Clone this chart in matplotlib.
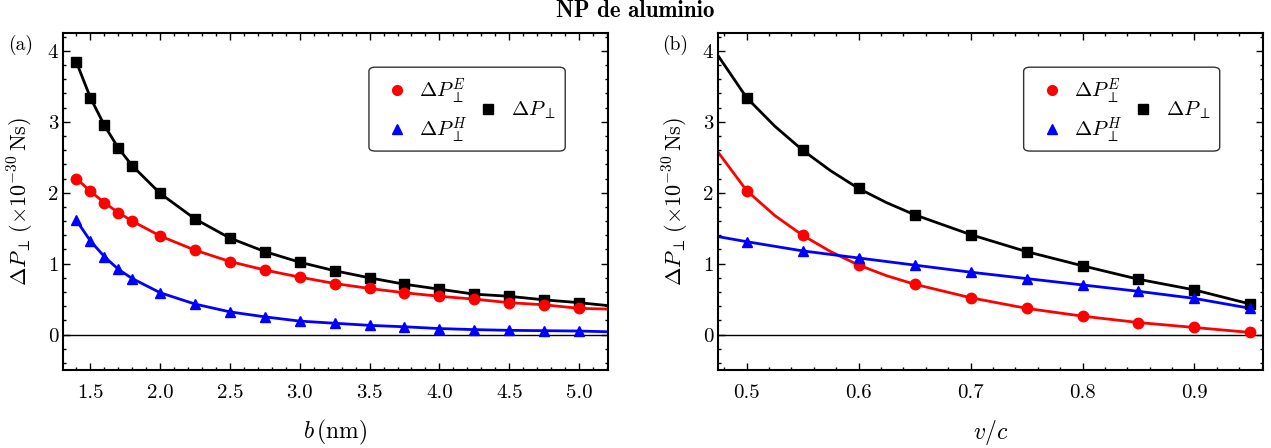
"""
Transferencia de momento - NP de aluminio (dos paneles)
"""

import matplotlib
matplotlib.use('Agg')
import matplotlib.pyplot as plt
from matplotlib.lines import Line2D
from matplotlib.patches import FancyBboxPatch
from matplotlib.ticker import MultipleLocator

plt.rcParams['font.family'] = 'serif'
plt.rcParams['font.serif'] = ['cmr10']
plt.rcParams['mathtext.fontset'] = 'cm'
plt.rcParams['axes.unicode_minus'] = False

# Panel (a): dependence on impact parameter b (nm)
b_nm = [1.4, 1.5, 1.6, 1.7, 1.8, 2.0, 2.25, 2.5, 2.75, 3.0, 3.25, 3.5,
        3.75, 4.0, 4.25, 4.5, 4.75, 5.0]
dp_total_b = [3.84, 3.34, 2.95, 2.63, 2.38, 1.99, 1.63, 1.36, 1.17, 1.02,
              0.90, 0.80, 0.71, 0.64, 0.57, 0.54, 0.49, 0.45]
dp_e_b = [2.20, 2.02, 1.86, 1.72, 1.60, 1.39, 1.19, 1.03, 0.91, 0.81,
          0.72, 0.65, 0.59, 0.54, 0.50, 0.45, 0.42, 0.37]
dp_h_b = [1.61, 1.32, 1.10, 0.92, 0.79, 0.59, 0.43, 0.32, 0.25, 0.19,
          0.16, 0.13, 0.11, 0.085, 0.07, 0.06, 0.055, 0.05]
# curve values at the right edge of panel (a)
b_edge = 5.2
dp_total_b_edge = 0.41
dp_e_b_edge = 0.36
dp_h_b_edge = 0.04

# Panel (b): dependence on v/c
v_c = [0.5, 0.55, 0.6, 0.65, 0.7, 0.75, 0.8, 0.85, 0.9, 0.95]
dp_total_v = [3.34, 2.60, 2.06, 1.69, 1.41, 1.17, 0.97, 0.78, 0.63, 0.43]
dp_e_v = [2.03, 1.40, 0.98, 0.71, 0.52, 0.37, 0.26, 0.17, 0.10, 0.03]
dp_h_v = [1.31, 1.18, 1.08, 0.98, 0.88, 0.79, 0.70, 0.61, 0.51, 0.37]
# curve values read between markers / at the left edge of panel (b)
v_extra = [0.475, 0.525, 0.575, 0.625]
dp_total_v_extra = [3.92, 2.94, 2.31, 1.86]
dp_e_v_extra = [2.56, 1.68, 1.17, 0.83]
dp_h_v_extra = [1.38, 1.245, 1.13, 1.03]

RED = '#ff0000'
BLUE = '#0000ff'
BLACK = '#000000'


def merge(xs, ys, xs2, ys2):
    """Join marker values and extra curve readings, sorted by x"""
    pts = sorted(zip(list(xs) + list(xs2), list(ys) + list(ys2)))
    return [p[0] for p in pts], [p[1] for p in pts]


def draw_panel(ax, x, series, extra_x, extras):
    ax.axhline(0, color='black', lw=1.0, zorder=1)
    styles = [(BLACK, 's'), (RED, 'o'), (BLUE, '^')]
    for (color, marker), y, ey in zip(styles, series, extras):
        lx, ly = merge(x, y, extra_x, ey)
        ax.plot(lx, ly, color=color, lw=2.0, zorder=2, clip_on=True)
        ax.plot(x, y, linestyle='none', marker=marker, color=color,
                markersize=7.5, zorder=3, clip_on=False)

    ax.set_ylim(-0.5, 4.25)
    ax.set_yticks([0, 1, 2, 3, 4])
    ax.yaxis.set_minor_locator(MultipleLocator(0.2))
    ax.tick_params(which='both', direction='in', top=True, right=True,
                   labelsize=15, width=1.0)
    ax.tick_params(which='major', length=5)
    ax.tick_params(which='minor', length=2.5)
    ax.tick_params(axis='x', which='both', pad=10)
    ax.tick_params(axis='y', which='both', pad=3.5)
    for sp in ax.spines.values():
        sp.set_linewidth(1.5)

    ax.set_ylabel(r'$\Delta P_{\perp}\,(\times 10^{-30}\,\mathrm{Ns})$', fontsize=16)
    ax.yaxis.set_label_coords(-0.049, 0.5)

    # legend: frame + two frameless legends (square entry centred on the right)
    frame = FancyBboxPatch((0.561, 0.650), 0.360, 0.249, transform=ax.transAxes,
                           boxstyle='round,pad=0,rounding_size=0.012',
                           facecolor='white', edgecolor='#333333', lw=1.0, zorder=5)
    ax.add_patch(frame)
    h_e = Line2D([], [], linestyle='none', marker='o', color=RED, markersize=7)
    h_h = Line2D([], [], linestyle='none', marker='^', color=BLUE, markersize=7)
    h_t = Line2D([], [], linestyle='none', marker='s', color=BLACK, markersize=7)
    leg1 = ax.legend([h_e, h_h], [r'$\Delta P_{\perp}^{E}$', r'$\Delta P_{\perp}^{H}$'],
                     loc='center left', bbox_to_anchor=(0.575, 0.77), frameon=False,
                     fontsize=15, handlelength=1.0, handletextpad=0.55,
                     labelspacing=0.45, borderpad=0)
    leg1.set_zorder(6)
    ax.add_artist(leg1)
    leg2 = ax.legend([h_t], [r'$\Delta P_{\perp}$'],
                     loc='center left', bbox_to_anchor=(0.742, 0.77), frameon=False,
                     fontsize=15, handlelength=1.0, handletextpad=0.6, borderpad=0)
    leg2.set_zorder(6)


fig = plt.figure(figsize=(12.71, 4.48), dpi=100)
ax1 = fig.add_axes([0.0496, 0.174, 0.429, 0.752])
ax2 = fig.add_axes([0.565, 0.174, 0.4285, 0.752])

draw_panel(ax1, b_nm, [dp_total_b, dp_e_b, dp_h_b], [b_edge],
           [[dp_total_b_edge], [dp_e_b_edge], [dp_h_b_edge]])
ax1.set_xlim(1.304, 5.21)
ax1.set_xticks([1.5, 2.0, 2.5, 3.0, 3.5, 4.0, 4.5, 5.0])
ax1.set_xticklabels(['1.5', '2.0', '2.5', '3.0', '3.5', '4.0', '4.5', '5.0'])
ax1.xaxis.set_minor_locator(MultipleLocator(0.1))
ax1.set_xlabel(r'$b\,(\mathrm{nm})$', fontsize=17)
ax1.xaxis.set_label_coords(0.5, -0.143)

draw_panel(ax2, v_c, [dp_total_v, dp_e_v, dp_h_v], v_extra,
           [dp_total_v_extra, dp_e_v_extra, dp_h_v_extra])
ax2.set_xlim(0.4745, 0.961)
ax2.set_xticks([0.5, 0.6, 0.7, 0.8, 0.9])
ax2.set_xticklabels(['0.5', '0.6', '0.7', '0.8', '0.9'])
ax2.xaxis.set_minor_locator(MultipleLocator(0.02))
ax2.set_xlabel(r'$v/c$', fontsize=17)
ax2.xaxis.set_label_coords(0.5, -0.143)

fig.text(0.0165, 0.90, '(a)', fontsize=14, ha='center', va='center')
fig.text(0.531, 0.90, '(b)', fontsize=14, ha='center', va='center')
fig.text(0.5, 0.975, 'NP de aluminio', fontsize=16.5, ha='center', va='center',
         family='cmb10')

fig.savefig('out.png', dpi=100)
